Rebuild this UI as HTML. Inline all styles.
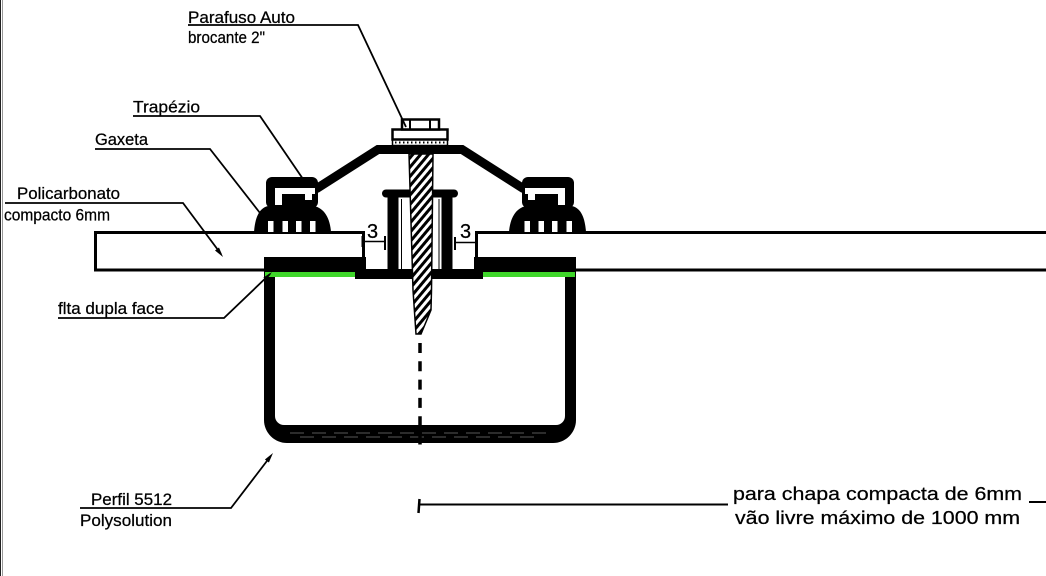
<!DOCTYPE html>
<html><head><meta charset="utf-8"><style>
html,body{margin:0;padding:0;background:#fff;}
svg{display:block;}
text{font-family:"Liberation Sans",Arial,sans-serif;fill:#000;stroke:#000;stroke-width:0.25;}
</style></head><body>
<svg width="1046" height="576" viewBox="0 0 1046 576" xmlns="http://www.w3.org/2000/svg">
<defs>
<pattern id="h" width="6" height="6" patternUnits="userSpaceOnUse" patternTransform="rotate(40)"><rect width="6" height="6" fill="#fff"/><rect width="3" height="6" fill="#000"/></pattern>
<g id="gasket">
  <rect x="266" y="177" width="52" height="31" rx="6" fill="#000"/>
  <path d="M254,232 C255,218 259,208 268,206 L314,206 C324,208 330,218 331,232 Z" fill="#000"/>
  <rect x="275" y="188" width="40" height="6" fill="#fff"/>
  <rect x="275" y="193" width="7" height="12" fill="#fff"/>
  <rect x="305" y="193" width="7" height="7" fill="#fff"/>
  <rect x="268" y="221" width="5.5" height="11" fill="#fff"/>
  <rect x="282.5" y="221" width="5.5" height="11" fill="#fff"/>
  <rect x="296" y="221" width="5.5" height="11" fill="#fff"/>
  <rect x="310" y="221" width="5.5" height="11" fill="#fff"/>
</g>
</defs>

<!-- left border -->
<rect x="0" y="0" width="1" height="576" fill="#222"/>
<rect x="2" y="0" width="1" height="576" fill="#999"/>

<!-- U channel profile -->
<path fill-rule="evenodd" fill="#000" d="M264,272 V420 A23,23 0 0 0 287,443 H553 A23,23 0 0 0 576,420 V272 Z M275,272 V416 A9,9 0 0 0 284,425 H556 A9,9 0 0 0 565,416 V272 Z"/>
<path d="M290,433 H550 M300,437 H540" stroke="#777" stroke-width="0.8" stroke-dasharray="14 8" fill="none"/>

<!-- sheets -->
<rect x="95.5" y="232.5" width="268" height="37.5" fill="#fff" stroke="#000" stroke-width="3"/>
<path d="M1050,232.5 H476.5 V270 H1050" fill="#fff" stroke="#000" stroke-width="3"/>

<!-- flanges -->
<rect x="264" y="257" width="102" height="15" fill="#000"/>
<rect x="265" y="272" width="100" height="5" fill="#3fd62a"/>
<rect x="474" y="257" width="102" height="15" fill="#000"/>
<rect x="475" y="272" width="100" height="5" fill="#3fd62a"/>

<!-- base plate -->
<rect x="355" y="269" width="128" height="10" fill="#000"/>

<!-- hat piece -->
<rect x="382" y="189.5" width="76" height="8" rx="4" fill="#000"/>
<rect x="387.5" y="196" width="11" height="74" fill="#000"/>
<rect x="441.5" y="196" width="11" height="74" fill="#000"/>
<line x1="401.5" y1="199" x2="401.5" y2="270" stroke="#000" stroke-width="1"/>
<line x1="439" y1="199" x2="439" y2="270" stroke="#000" stroke-width="1"/>

<!-- gaskets -->
<use href="#gasket"/>
<use href="#gasket" transform="translate(840,0) scale(-1,1)"/>

<!-- trapezio -->
<polyline points="316,189 378,149.5 462,149.5 524,189" fill="none" stroke="#000" stroke-width="9" stroke-linejoin="miter"/>

<!-- screw shaft -->
<polygon points="409,154 433,154 431.5,290 431,310 421,334 416,334 413,290" fill="url(#h)" stroke="#000" stroke-width="1.5"/>

<!-- screw head & washer -->
<rect x="392.5" y="139.5" width="55" height="6" fill="#fff" stroke="#000" stroke-width="1.5"/>
<line x1="395" y1="142.5" x2="446" y2="142.5" stroke="#000" stroke-width="2" stroke-dasharray="1.5 2.5"/>
<rect x="392.5" y="129.5" width="55" height="10" fill="#fff" stroke="#000" stroke-width="2.5"/>
<rect x="402" y="119.5" width="37" height="10" fill="#fff" stroke="#000" stroke-width="2.5"/>
<line x1="410" y1="120" x2="410" y2="129" stroke="#000" stroke-width="2"/>
<line x1="430" y1="120" x2="430" y2="129" stroke="#000" stroke-width="2"/>

<!-- center dashed line -->
<line x1="420" y1="343" x2="420" y2="449" stroke="#000" stroke-width="3.5" stroke-dasharray="10 8.3"/>

<!-- dimension 3 marks -->
<text x="367" y="238" font-size="20">3</text>
<line x1="362" y1="241.5" x2="386" y2="241.5" stroke="#000" stroke-width="1.5"/>
<line x1="362.5" y1="236" x2="362.5" y2="247" stroke="#000" stroke-width="2"/>
<line x1="385" y1="236" x2="385" y2="250" stroke="#000" stroke-width="2"/>
<text x="460" y="238" font-size="20">3</text>
<line x1="454" y1="242.5" x2="478" y2="242.5" stroke="#000" stroke-width="1.5"/>
<line x1="455" y1="237" x2="455" y2="250" stroke="#000" stroke-width="2"/>

<!-- leaders -->
<g fill="none" stroke="#000" stroke-width="1.8">
  <polyline points="188,25 358,25 406,127"/>
  <polyline points="133,116 260,116 303,179"/>
  <polyline points="95,149 210,149 260,213"/>
  <polyline points="5,203 183,203 221,254"/>
  <polyline points="58,318 224,318 270,274"/>
  <polyline points="80,508 231,508 270,457"/>
</g>
<polygon points="223,257 219,247.5 215,250.5" fill="#000"/>
<polygon points="273,453 268.9,462.5 264.9,459.5" fill="#000"/>
<polygon points="272,272 266.2,280.3 263.4,277.5" fill="#000"/>

<!-- labels -->
<g font-size="16.5">
<text x="188" y="23" textLength="107" lengthAdjust="spacingAndGlyphs">Parafuso Auto</text>
<text x="188" y="43" textLength="77" lengthAdjust="spacingAndGlyphs">brocante 2"</text>
<text x="133" y="112.5" textLength="67" lengthAdjust="spacingAndGlyphs">Trapézio</text>
<text x="95" y="145" textLength="53" lengthAdjust="spacingAndGlyphs">Gaxeta</text>
<text x="17" y="199" textLength="103" lengthAdjust="spacingAndGlyphs">Policarbonato</text>
<text x="4" y="220.5" textLength="106" lengthAdjust="spacingAndGlyphs">compacto 6mm</text>
<text x="58" y="314" textLength="106" lengthAdjust="spacingAndGlyphs">flta dupla face</text>
<text x="91" y="505" textLength="81" lengthAdjust="spacingAndGlyphs">Perfil 5512</text>
<text x="80" y="526" textLength="92" lengthAdjust="spacingAndGlyphs">Polysolution</text>
</g>

<!-- bottom dimension -->
<line x1="419" y1="504.5" x2="728" y2="504.5" stroke="#000" stroke-width="2"/>
<line x1="419.5" y1="499" x2="418.5" y2="513" stroke="#000" stroke-width="2.5"/>
<line x1="1029" y1="502" x2="1046" y2="502" stroke="#000" stroke-width="2"/>
<text x="733" y="500" font-size="18.5" textLength="289" lengthAdjust="spacingAndGlyphs">para chapa compacta de 6mm</text>
<text x="735" y="524" font-size="18.5" textLength="285" lengthAdjust="spacingAndGlyphs">vão livre máximo de 1000 mm</text>
</svg>
</body></html>
